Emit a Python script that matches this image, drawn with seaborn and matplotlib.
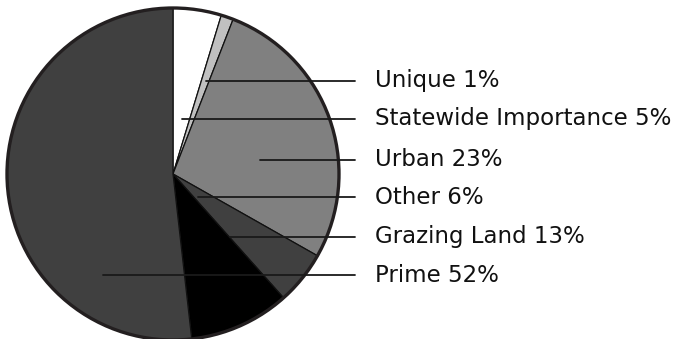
import matplotlib
matplotlib.use("Agg")
import matplotlib.pyplot as plt
import seaborn as sns
from matplotlib.patches import Circle

sns.set_theme(style="white")
plt.rcParams['font.family'] = ['DejaVu Sans']

# Data (slice shares as drawn, clockwise from 12 o'clock)
categories = ["Statewide Importance", "Unique", "Urban", "Other", "Grazing Land", "Prime"]
slice_shares = [4.7, 1.2, 27.3, 5.2, 9.8, 51.8]
slice_colors = ["#ffffff", "#c0c0c0", "#808080", "#404040", "#000000", "#404040"]

# Label list (top to bottom) with printed percentages
label_names = ["Unique", "Statewide Importance", "Urban", "Other", "Grazing Land", "Prime"]
label_pcts = [1, 5, 23, 6, 13, 52]

W, H = 675, 339
fig = plt.figure(figsize=(W / 100, H / 100), dpi=100)
ax = fig.add_axes([0, 0, 1, 1])

cx, cy, R = 173, H - 174, 166

ax.pie(slice_shares, colors=slice_colors, startangle=90, counterclock=False,
       center=(cx, cy), radius=R,
       wedgeprops=dict(edgecolor="#111111", linewidth=0.9))
ax.add_patch(Circle((cx, cy), R, fill=False, edgecolor="#231f20", linewidth=2.4, zorder=5))

# leader lines (start x inside pie, y of each label row, in pixel coordinates)
line_start_x = [206, 182, 260, 198, 230, 103]
line_y = [80.5, 119, 160, 197, 237, 275]
line_end_x = 355
text_x = 375

for name, pct, x0, y in zip(label_names, label_pcts, line_start_x, line_y):
    yy = H - y
    ax.plot([x0, line_end_x], [yy, yy], color="#1a1a1a", linewidth=1.3, zorder=6)
    ax.text(text_x, yy, f"{name} {pct}%", fontsize=16.5, color="#111111",
            va="center", ha="left", zorder=7)

ax.set_xlim(0, W)
ax.set_ylim(0, H)
ax.set_aspect("equal")
ax.axis("off")

fig.savefig("out.png", dpi=100, facecolor="white")
